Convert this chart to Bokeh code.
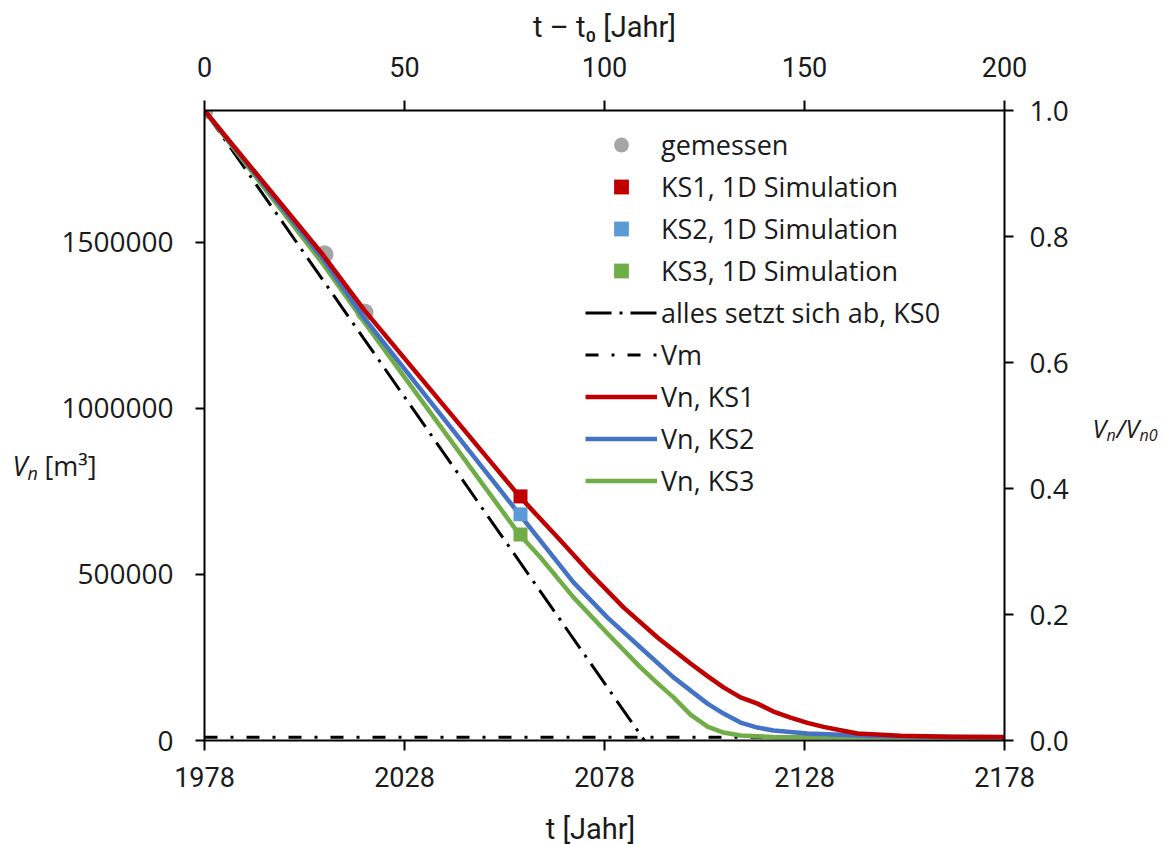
from bokeh.plotting import figure
from bokeh.models import (Range1d, LinearAxis, Legend, LegendItem, Label,
                          FixedTicker, NumeralTickFormatter)
from bokeh.embed import file_html
from bokeh.resources import INLINE

# ---------------------------------------------------------------- data ----
VN0 = 1897000                      # initial sediment volume Vn0 [m³]
year_start, year_end = 1978, 2178  # t0 and end of the simulated period

meas_year = [1978, 2008, 2018]
meas_vn = [1897000, 1464000, 1289000]

sim_year = [2057]
ks1_sim_vn = [735000]
ks2_sim_vn = [681000]
ks3_sim_vn = [620000]

ks0_year = [1978, 2088]
ks0_vn = [1897000, 0]

vm_year = [1978, 2178]
vm_vn = [10000, 10000]

ks1_year = [1978, 2007.5, 2018, 2056.75, 2067, 2074.5, 2082.75, 2091.25, 2099.5,
            2103.5, 2107.75, 2112, 2116.25, 2120.25, 2124.5, 2128.75, 2132.75,
            2137, 2141.25, 2152, 2164.5, 2178]
ks1_vn = [1897000, 1464000, 1295000, 735000, 602000, 503000, 401000, 310000, 232000,
          196000, 160000, 130000, 111000, 87000, 69000, 53000, 41000,
          31000, 21000, 14000, 11500, 10500]

ks2_year = [1978, 2007.5, 2018, 2056.75, 2070.25, 2078.75, 2087, 2095.25, 2103.75,
            2107.75, 2112, 2116.25, 2120.25, 2128.75, 2145.25, 2164.5, 2178]
ks2_vn = [1897000, 1452000, 1271000, 681000, 476000, 370000, 280000, 190000, 111000,
          81000, 54000, 39000, 30000, 21000, 13500, 10500, 10000]

ks3_year = [1978, 2007.5, 2018, 2056.75, 2062, 2070.25, 2078.75, 2087, 2091,
            2095.25, 2099.5, 2103.75, 2107.75, 2112, 2120.25, 2178]
ks3_vn = [1897000, 1437000, 1259000, 620000, 551000, 431000, 322000, 220000, 175000,
          130000, 78000, 42000, 24000, 15000, 10500, 10000]

year_ticks = [1978, 2028, 2078, 2128, 2178]
t_ticks = [0, 50, 100, 150, 200]
vn_ticks = [0, 500000, 1000000, 1500000]
rel_ticks = [0.0, 0.2, 0.4, 0.6, 0.8, 1.0]

# -------------------------------------------------------------- styling ----
TXT = "#1a1a1a"
RED, BLUE, GREEN = "#C00000", "#4472C4", "#70AD47"
BLUE_SQ = "#5B9BD5"
GRAY = "#A5A5A5"
SANS = "Open Sans"
NARROW = "Roboto"

FRAME_L, FRAME_R, FRAME_T, FRAME_B = 204, 1004, 110, 740
W, H = 1166, 844

p = figure(width=W, height=H,
           x_range=Range1d(year_start, year_end), y_range=Range1d(0, VN0),
           output_backend="svg", toolbar_location=None,
           min_border_left=FRAME_L, min_border_right=W - FRAME_R,
           min_border_top=FRAME_T, min_border_bottom=H - FRAME_B)
p.extra_x_ranges = {"t": Range1d(0, year_end - year_start)}
p.extra_y_ranges = {"rel": Range1d(0, 1)}
p.grid.visible = False
p.outline_line_color = None
p.background_fill_color = "white"
p.border_fill_color = "white"

bottom_axis = p.below[0]
left_axis = p.left[0]
top_axis = LinearAxis(x_range_name="t")
right_axis = LinearAxis(y_range_name="rel")
p.add_layout(top_axis, "above")
p.add_layout(right_axis, "right")


def style_axis(ax, ticks, font, size, standoff, tick_out):
    ax.ticker = FixedTicker(ticks=ticks)
    ax.axis_line_color = "black"
    ax.axis_line_width = 2
    ax.major_tick_line_color = "black"
    ax.major_tick_line_width = 2
    ax.major_tick_in = 0
    ax.major_tick_out = tick_out
    ax.minor_tick_line_color = None
    ax.major_label_text_font = font
    ax.major_label_text_font_size = f"{size}px"
    ax.major_label_text_color = TXT
    ax.major_label_standoff = standoff


style_axis(bottom_axis, year_ticks, NARROW, 27, 16, 10)
style_axis(top_axis, t_ticks, NARROW, 27, 24, 10)
style_axis(left_axis, vn_ticks, SANS, 28, 22, 9)
style_axis(right_axis, rel_ticks, SANS, 28, 16, 9)
left_axis.formatter = NumeralTickFormatter(format="0")
right_axis.formatter = NumeralTickFormatter(format="0.0")

# --------------------------------------------------------------- glyphs ----
r_meas = p.scatter(meas_year, meas_vn, marker="circle", size=18,
                   fill_color=GRAY, line_color=None)
r_vm = p.line(vm_year, vm_vn, line_color="black", line_width=3,
              line_dash="13 13 3 13")
r_ks0 = p.line(ks0_year, ks0_vn, line_color="black", line_width=3,
               line_dash="26 8 3 8")
r_l3 = p.line(ks3_year, ks3_vn, line_color=GREEN, line_width=4.5, line_join="round")
r_l2 = p.line(ks2_year, ks2_vn, line_color=BLUE, line_width=4.5, line_join="round")
r_l1 = p.line(ks1_year, ks1_vn, line_color=RED, line_width=4.5, line_join="round")
r_s1 = p.scatter(sim_year, ks1_sim_vn, marker="square", size=14,
                 fill_color=RED, line_color=None)
r_s2 = p.scatter(sim_year, ks2_sim_vn, marker="square", size=14,
                 fill_color=BLUE_SQ, line_color=None)
r_s3 = p.scatter(sim_year, ks3_sim_vn, marker="square", size=14,
                 fill_color=GREEN, line_color=None)

legend = Legend(items=[
    LegendItem(label="gemessen", renderers=[r_meas]),
    LegendItem(label="KS1, 1D Simulation", renderers=[r_s1]),
    LegendItem(label="KS2, 1D Simulation", renderers=[r_s2]),
    LegendItem(label="KS3, 1D Simulation", renderers=[r_s3]),
    LegendItem(label="alles setzt sich ab, KS0", renderers=[r_ks0]),
    LegendItem(label="Vm", renderers=[r_vm]),
    LegendItem(label="Vn, KS1", renderers=[r_l1]),
    LegendItem(label="Vn, KS2", renderers=[r_l2]),
    LegendItem(label="Vn, KS3", renderers=[r_l3]),
], location=(381, 241))
legend.padding = 0
legend.margin = 0
legend.spacing = 5
legend.glyph_width = 72
legend.glyph_height = 37
legend.label_height = 37
legend.label_standoff = 4
legend.label_text_font = SANS
legend.label_text_font_size = "27px"
legend.label_text_color = TXT
legend.border_line_color = None
legend.background_fill_alpha = 0
p.add_layout(legend)

# ---------------------------------------------------------- axis titles ----
# Title texts sit in the side panels (the frame clips its own annotations);
# their page-pixel positions are mapped through the frame's data scales.
# Each side panel only has room for a few of them, so the pieces are spread
# over the panels with spare space.
X_PER_PX = (year_end - year_start) / (FRAME_R - FRAME_L)
Y_PER_PX = VN0 / (FRAME_B - FRAME_T)


def put(side, text, px, py, size, font, style="normal", align="left"):
    p.add_layout(Label(x=year_start + (px - FRAME_L) * X_PER_PX,
                       y=(FRAME_B - py) * Y_PER_PX,
                       text=text, text_font=font, text_font_size=f"{size}px",
                       text_font_style=style, text_color=TXT,
                       text_align=align, text_baseline="middle"), side)


# top: t – t0 [Jahr]
put("above", "t – t\u2080 [Jahr]", 604, 26, 29, NARROW, align="center")

# bottom: t [Jahr]
put("below", "t [Jahr]", 590, 828, 29, NARROW, align="center")

# left: Vn [m³]
put("right", "V", 12, 465, 27, SANS, "italic")
put("right", "n", 27, 472, 18, SANS, "italic")
put("left", "[m\u00b3]", 44, 465, 27, SANS)

# right: Vn/Vn0
put("right", "V", 1092, 427, 25, SANS, "italic")
put("right", "n", 1106, 434, 16, SANS, "italic")
put("right", "/", 1116, 427, 25, SANS, "italic")
put("right", "V", 1125, 427, 25, SANS, "italic")
put("right", "n0", 1139, 434, 16, SANS, "italic")

html = file_html(p, INLINE)
html = html.replace("<head>", "<head><style>html,body{margin:0;padding:0;}</style>", 1)
open("out.html", "w").write(html)
